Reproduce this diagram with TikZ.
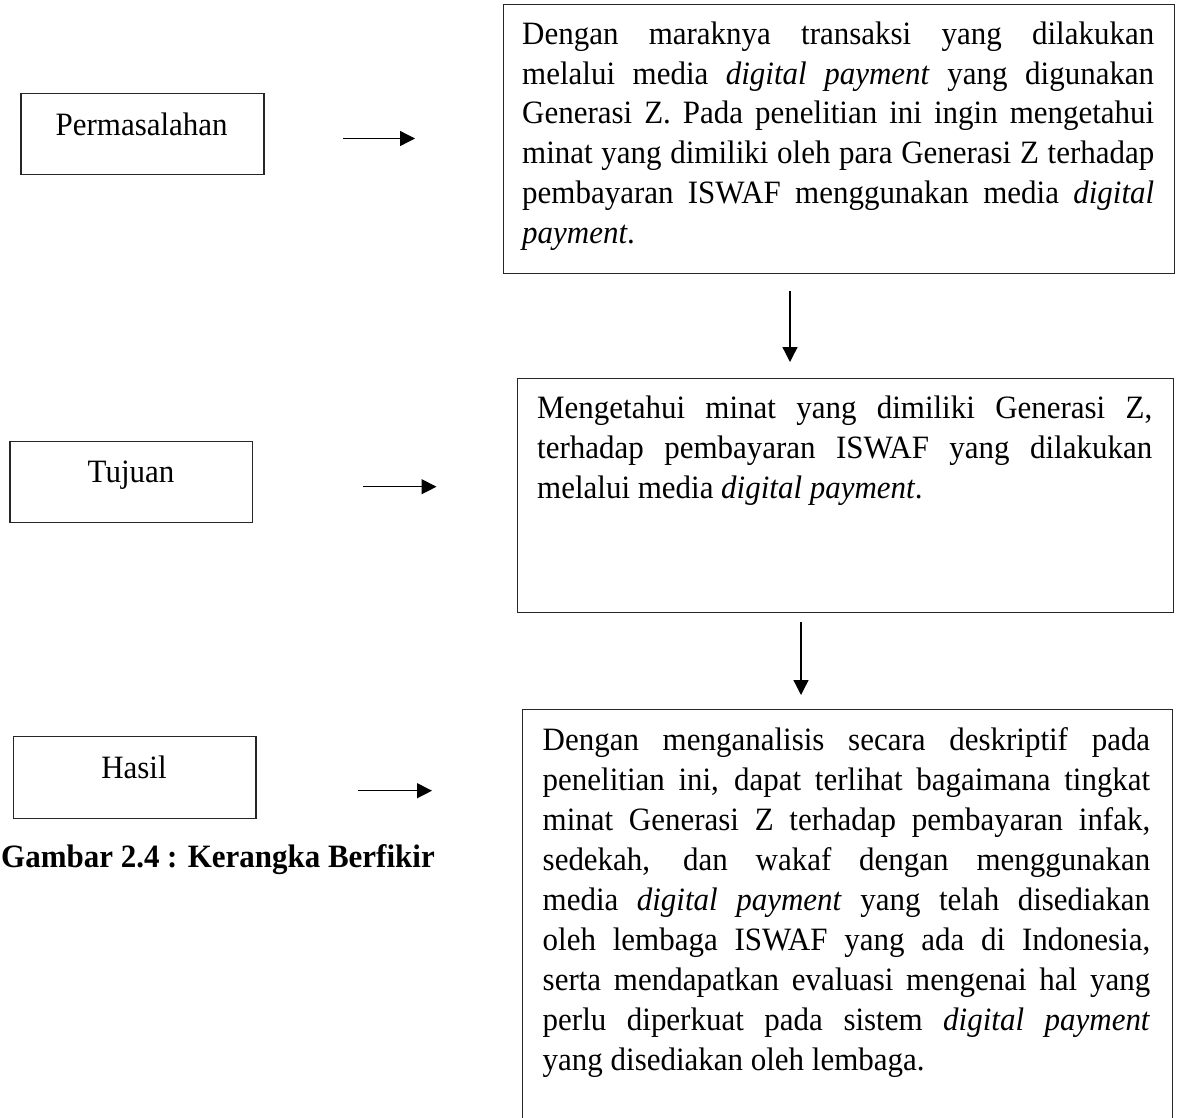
\documentclass[tikz,border=0pt]{standalone}
\usepackage{fontspec}
\setmainfont{Liberation Serif}[FakeStretch=0.95]
\usetikzlibrary{arrows.meta}
\tikzset{
  box/.style={draw=black!85, line width=1.2pt, inner sep=0pt, anchor=north west},
  lbl/.style={inner sep=0pt, anchor=base, font=\fontsize{32.6}{40}\selectfont},
  tl/.style={inner sep=0pt, anchor=base west, font=\fontsize{32.6}{40}\selectfont},
  arr/.style={line width=1.3pt, -{Triangle[length=15pt,width=15pt]}},
}
\newcommand\jline[2]{\makebox[#1][s]{#2}}
\begin{document}
\begin{tikzpicture}[x=1pt,y=-1pt]
\useasboundingbox (0,0) rectangle (1182,1117);
\clip (0,0) rectangle (1182,1117);
% left boxes
\node[box, minimum width=243pt, minimum height=81pt] (perm) at (20.3,93) {};
\node[lbl] (tperm) at (141.7,135) {Permasalahan};
\node[box, minimum width=242.7pt, minimum height=81pt] (tuj) at (9.3,441) {};
\node[lbl] (ttuj) at (131,482) {Tujuan};
\node[box, minimum width=242.6pt, minimum height=81.7pt] (has) at (12.7,736) {};
\node[lbl] (thas) at (134,778) {Hasil};
\node[tl, font=\fontsize{32.6}{40}\selectfont\bfseries] (cap) at (1,867) {Gambar 2.4 : Kerangka Berfikir};
% right boxes
\node[box, minimum width=671.3pt, minimum height=268.7pt] (b1) at (502.7,4) {};
\node[box, minimum width=656pt, minimum height=234.3pt] (b2) at (516.7,377.7) {};
\node[box, minimum width=650pt, minimum height=430pt] (b3) at (521.7,709) {};
% box 1 text
\node[tl] (l11) at (522,44.5) {\jline{632pt}{Dengan maraknya transaksi yang dilakukan}};
\node[tl] (l12) at (522,84.2) {\jline{632pt}{melalui media \textit{digital payment} yang digunakan}};
\node[tl] (l13) at (522,123.9) {\jline{632pt}{Generasi Z. Pada penelitian ini ingin mengetahui}};
\node[tl] (l14) at (522,163.6) {\jline{632pt}{minat yang dimiliki oleh para Generasi Z terhadap}};
\node[tl] (l15) at (522,203.3) {\jline{632pt}{pembayaran ISWAF menggunakan media \textit{digital}}};
\node[tl] (l16) at (522,243) {\textit{payment}.};
% box 2 text
\node[tl] (l21) at (537,418) {\jline{615pt}{Mengetahui minat yang dimiliki Generasi Z,}};
\node[tl] (l22) at (537,458) {\jline{615pt}{terhadap pembayaran ISWAF yang dilakukan}};
\node[tl] (l23) at (537,498) {melalui media \textit{digital payment}.};
% box 3 text
\node[tl] (l31) at (542.5,750) {\jline{607.5pt}{Dengan menganalisis secara deskriptif pada}};
\node[tl] (l32) at (542.5,790) {\jline{607.5pt}{penelitian ini, dapat terlihat bagaimana tingkat}};
\node[tl] (l33) at (542.5,830) {\jline{607.5pt}{minat Generasi Z terhadap pembayaran infak,}};
\node[tl] (l34) at (542.5,870) {\jline{607.5pt}{sedekah, dan wakaf dengan menggunakan}};
\node[tl] (l35) at (542.5,910) {\jline{607.5pt}{media \textit{digital payment} yang telah disediakan}};
\node[tl] (l36) at (542.5,950) {\jline{607.5pt}{oleh lembaga ISWAF yang ada di Indonesia,}};
\node[tl] (l37) at (542.5,990) {\jline{607.5pt}{serta mendapatkan evaluasi mengenai hal yang}};
\node[tl] (l38) at (542.5,1030) {\jline{607.5pt}{perlu diperkuat pada sistem \textit{digital payment}}};
\node[tl] (l39) at (542.5,1070) {yang disediakan oleh lembaga.};
% arrows
\coordinate (a1s) at (343,138.5); \coordinate (a1e) at (415,138.5);
\coordinate (a2s) at (363,486.7); \coordinate (a2e) at (436.5,486.7);
\coordinate (a3s) at (358,790.7); \coordinate (a3e) at (432,790.7);
\coordinate (v1s) at (790,291); \coordinate (v1e) at (790,362);
\coordinate (v2s) at (801,622); \coordinate (v2e) at (801,695);
\draw[arr] (a1s) -- (a1e);
\draw[arr] (a2s) -- (a2e);
\draw[arr] (a3s) -- (a3e);
\draw[arr] (v1s) -- (v1e);
\draw[arr] (v2s) -- (v2e);
\end{tikzpicture}
\end{document}
